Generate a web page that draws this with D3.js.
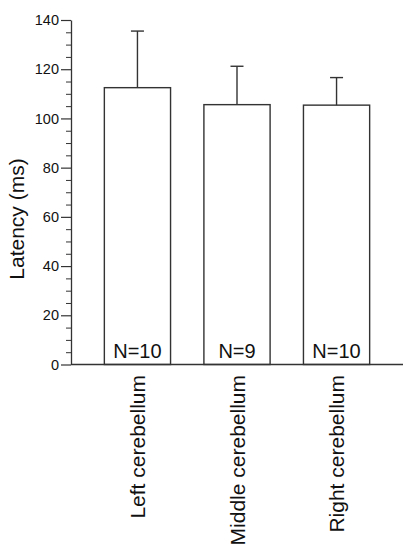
<!DOCTYPE html>
<html>
<head>
<meta charset="utf-8">
<script src="https://cdn.jsdelivr.net/npm/d3@7"></script>
<style>
  html, body { margin: 0; padding: 0; background: #fff; }
  svg { display: block; }
  text { font-family: "Liberation Sans", Arial, sans-serif; fill: #111; }
</style>
</head>
<body>
<svg id="chart" width="407" height="551"></svg>
<script>
const categories = ["Left cerebellum", "Middle cerebellum", "Right cerebellum"];
const means = [112.5, 105.6, 105.4];
const sds = [23.0, 15.6, 11.2];
const nLabels = ["N=10", "N=9", "N=10"];
const majorTicks = [0, 20, 40, 60, 80, 100, 120, 140];
const minorTicks = d3.range(0, 141, 5);

const svg = d3.select("#chart");
const x0 = 71, x1 = 403, yTop = 20, yBot = 364.5;
const stroke = "#333";

const x = d3.scaleBand().domain(categories).range([x0, x1]).paddingInner(0.335).paddingOuter(0.335);
const y = d3.scaleLinear().domain([0, 140]).range([yBot, yTop]);

// minor ticks
svg.append("g")
  .attr("transform", `translate(${x0},0)`)
  .call(d3.axisLeft(y).tickValues(minorTicks.filter(v => v % 20 !== 0)).tickSize(5).tickFormat(""))
  .call(g => g.select(".domain").remove())
  .call(g => g.selectAll("line").attr("stroke", stroke).attr("stroke-width", 1));

// major ticks + axis
const ya = svg.append("g")
  .attr("transform", `translate(${x0},0)`)
  .call(d3.axisLeft(y).tickValues(majorTicks).tickSize(10).tickSizeOuter(0).tickPadding(2).tickFormat(d3.format("d")));
ya.select(".domain").attr("stroke", stroke).attr("stroke-width", 1.3);
ya.selectAll("line").attr("stroke", stroke).attr("stroke-width", 1.2);
ya.selectAll("text").style("font-size", "14.5px").style("font-family", "'Liberation Sans', Arial, sans-serif").attr("fill", "#111");

// bars
svg.append("g").selectAll("rect").data(categories).join("rect")
  .attr("x", d => x(d))
  .attr("width", x.bandwidth())
  .attr("y", (d, i) => y(means[i]))
  .attr("height", (d, i) => yBot - y(means[i]))
  .attr("fill", "#fff")
  .attr("stroke", stroke)
  .attr("stroke-width", 1.4);

// error bars
const eb = svg.append("g").attr("stroke", stroke).attr("stroke-width", 1.4);
categories.forEach((c, i) => {
  const cx = x(c) + x.bandwidth() / 2;
  eb.append("line").attr("x1", cx).attr("x2", cx).attr("y1", y(means[i])).attr("y2", y(means[i] + sds[i]));
  eb.append("line").attr("x1", cx - 6.5).attr("x2", cx + 6.5).attr("y1", y(means[i] + sds[i])).attr("y2", y(means[i] + sds[i]));
});

// baseline
svg.append("line").attr("x1", x0).attr("x2", x1).attr("y1", yBot).attr("y2", yBot)
  .attr("stroke", stroke).attr("stroke-width", 1.4);

// N labels
svg.append("g").selectAll("text").data(categories).join("text")
  .attr("x", d => x(d) + x.bandwidth() / 2)
  .attr("y", yBot - 6.5)
  .attr("text-anchor", "middle")
  .style("font-size", "20px")
  .text((d, i) => nLabels[i]);

// category labels
svg.append("g").selectAll("text").data(categories).join("text")
  .attr("transform", d => `translate(${x(d) + x.bandwidth() / 2},375) rotate(-90)`)
  .attr("text-anchor", "end")
  .attr("dy", "0.36em")
  .style("font-size", "21px")
  .text(d => d);

// y label
svg.append("text")
  .attr("transform", "translate(16.5,219) rotate(-90)")
  .attr("text-anchor", "middle")
  .attr("dy", "0.36em")
  .style("font-size", "21px")
  .text("Latency (ms)");
</script>
</body>
</html>
